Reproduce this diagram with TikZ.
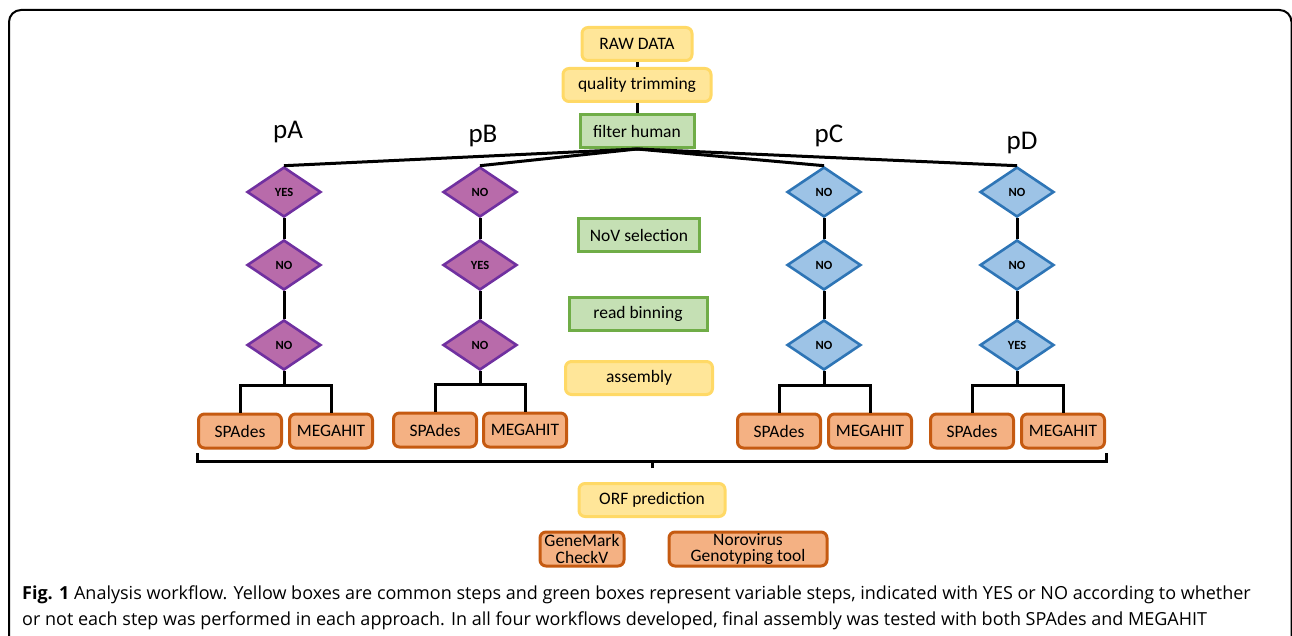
\documentclass[tikz,border=0pt]{standalone}
\usepackage{fontspec}
\setmainfont{Carlito}
\newfontfamily\capfont{Open Sans}
\usepackage{tikz}
\usetikzlibrary{shapes.geometric}
\definecolor{yfill}{HTML}{FFE699}
\definecolor{yline}{HTML}{FFD966}
\definecolor{gfill}{HTML}{C5E0B4}
\definecolor{gline}{HTML}{70AD47}
\definecolor{ofill}{HTML}{F4B183}
\definecolor{oline}{HTML}{C55A11}
\definecolor{pfill}{HTML}{B86BAA}
\definecolor{pline}{HTML}{7030A0}
\definecolor{bfill}{HTML}{9DC3E6}
\definecolor{bline}{HTML}{2E75B6}
\tikzstyle{box_y} = [rectangle, rounded corners=6pt, draw=yline, fill=yfill, line width=3pt, inner sep=0pt, minimum height=33pt, font=\fontsize{17.5}{19}\selectfont]
\tikzstyle{box_g} = [rectangle, draw=gline, fill=gfill, line width=3pt, inner sep=0pt, minimum height=33pt, font=\fontsize{17.5}{19}\selectfont]
\tikzstyle{box_o} = [rectangle, rounded corners=6pt, draw=oline, fill=ofill, line width=3pt, inner sep=0pt, minimum height=34pt, align=center, font=\fontsize{17.5}{16.5}\selectfont]
\tikzstyle{dia_p} = [diamond, draw=pline, fill=pfill, line width=2.6pt, inner sep=0pt, minimum width=74pt, minimum height=50pt, font=\bfseries\fontsize{12.5}{14}\selectfont]
\tikzstyle{dia_b} = [diamond, draw=bline, fill=bfill, line width=2.6pt, inner sep=0pt, minimum width=74pt, minimum height=50pt, font=\bfseries\fontsize{12.5}{14}\selectfont]
\tikzstyle{lbl} = [inner sep=0pt, anchor=base, font=\fontsize{27}{30}\selectfont]
\tikzstyle{link} = [line width=3pt]

\begin{document}
\begin{tikzpicture}[x=1pt, y=-1pt]
\useasboundingbox (0,0) rectangle (1292,636);
\clip (0,0) rectangle (1292,636);
\draw[line width=2pt, rounded corners=12pt] (9,700) -- (9,10) -- (1291.5,10) -- (1291.5,700);

% common steps
\node [box_y, minimum width=110pt] (raw) at (637,44) {RAW DATA};
\node [box_y, minimum width=148pt] (trim) at (637,85) {quality trimming};
\node [box_g, minimum width=114pt] (human) at (637,131) {filter human};
\node [box_g, minimum width=121pt] (nov) at (639,235) {NoV selection};
\node [box_g, minimum width=138pt] (bin) at (638,314) {read binning};
\node [box_y, minimum width=147pt] (asm) at (639,378) {assembly};
\node [box_y, minimum width=146pt] (orf) at (652,500) {ORF prediction};
\node [box_o, minimum width=84pt] (gm) at (582,549) {GeneMark\\CheckV};
\node [box_o, minimum width=158pt] (noro) at (748,549) {Norovirus\\Genotyping tool};
\draw [link] (raw) -- (trim);
\draw [link] (trim) -- (human);

% approaches
\node [lbl] (la) at (288,139) {pA};
\node [lbl] (lb) at (483,143) {pB};
\node [lbl] (lc) at (829,143) {pC};
\node [lbl] (ld) at (1022,150) {pD};

\node [dia_p] (a1) at (284,192) {YES};
\node [dia_p] (a2) at (284,265) {NO};
\node [dia_p] (a3) at (284,345) {NO};
\node [dia_p] (b1) at (480,192) {NO};
\node [dia_p] (b2) at (480,265) {YES};
\node [dia_p] (b3) at (480,345) {NO};
\node [dia_b] (c1) at (824,192) {NO};
\node [dia_b] (c2) at (824,265) {NO};
\node [dia_b] (c3) at (824,345) {NO};
\node [dia_b] (d1) at (1017,192) {NO};
\node [dia_b] (d2) at (1017,265) {NO};
\node [dia_b] (d3) at (1017,345) {YES};

\draw [link] (human.south) -- (a1.north);
\draw [link] (human.south) -- (b1.north);
\draw [link] (human.south) -- (c1.north);
\draw [link] (human.south) -- (d1.north);
\draw [link] (a1) -- (a2) -- (a3);
\draw [link] (b1) -- (b2) -- (b3);
\draw [link] (c1) -- (c2) -- (c3);
\draw [link] (d1) -- (d2) -- (d3);

% assemblers
\node [box_o, minimum width=83pt] (sa) at (240,431) {SPAdes};
\node [box_o, minimum width=83pt] (ma) at (331,431) {MEGAHIT};
\node [box_o, minimum width=83pt] (sb) at (435,430) {SPAdes};
\node [box_o, minimum width=83pt] (mb) at (525,430) {MEGAHIT};
\node [box_o, minimum width=83pt] (sc) at (779,431) {SPAdes};
\node [box_o, minimum width=83pt] (mc) at (870,431) {MEGAHIT};
\node [box_o, minimum width=83pt] (sd) at (972,431) {SPAdes};
\node [box_o, minimum width=83pt] (md) at (1063,431) {MEGAHIT};

\draw [link] (a3.south) -- ++(0,14) -| (sa.north);
\draw [link] (a3.south) ++(0,14) -| (ma.north);
\draw [link] (b3.south) -- ++(0,13) -| (sb.north);
\draw [link] (b3.south) ++(0,13) -| (mb.north);
\draw [link] (c3.south) -- ++(0,14) -| (sc.north);
\draw [link] (c3.south) ++(0,14) -| (mc.north);
\draw [link] (d3.south) -- ++(0,14) -| (sd.north);
\draw [link] (d3.south) ++(0,14) -| (md.north);

% bracket
\coordinate (bl) at (197,453);
\coordinate (br) at (1106,453);
\coordinate (bm) at (652,468);
\draw [link] (bl) -- ++(0,8) -| (br);
\draw [link] (bm) -- ++(0,-7);

% caption
\node [anchor=base west, inner sep=0pt, font=\capfont\fontsize{18}{20}\selectfont] (cap1) at (22,599) {\textbf{Fig. 1} Analysis workflow. Yellow boxes are common steps and green boxes represent variable steps, indicated with YES or NO according to whether};
\node [anchor=base west, inner sep=0pt, font=\capfont\fontsize{18}{20}\selectfont] (cap2) at (22,625) {or not each step was performed in each approach. In all four workflows developed, final assembly was tested with both SPAdes and MEGAHIT};
\end{tikzpicture}
\end{document}
